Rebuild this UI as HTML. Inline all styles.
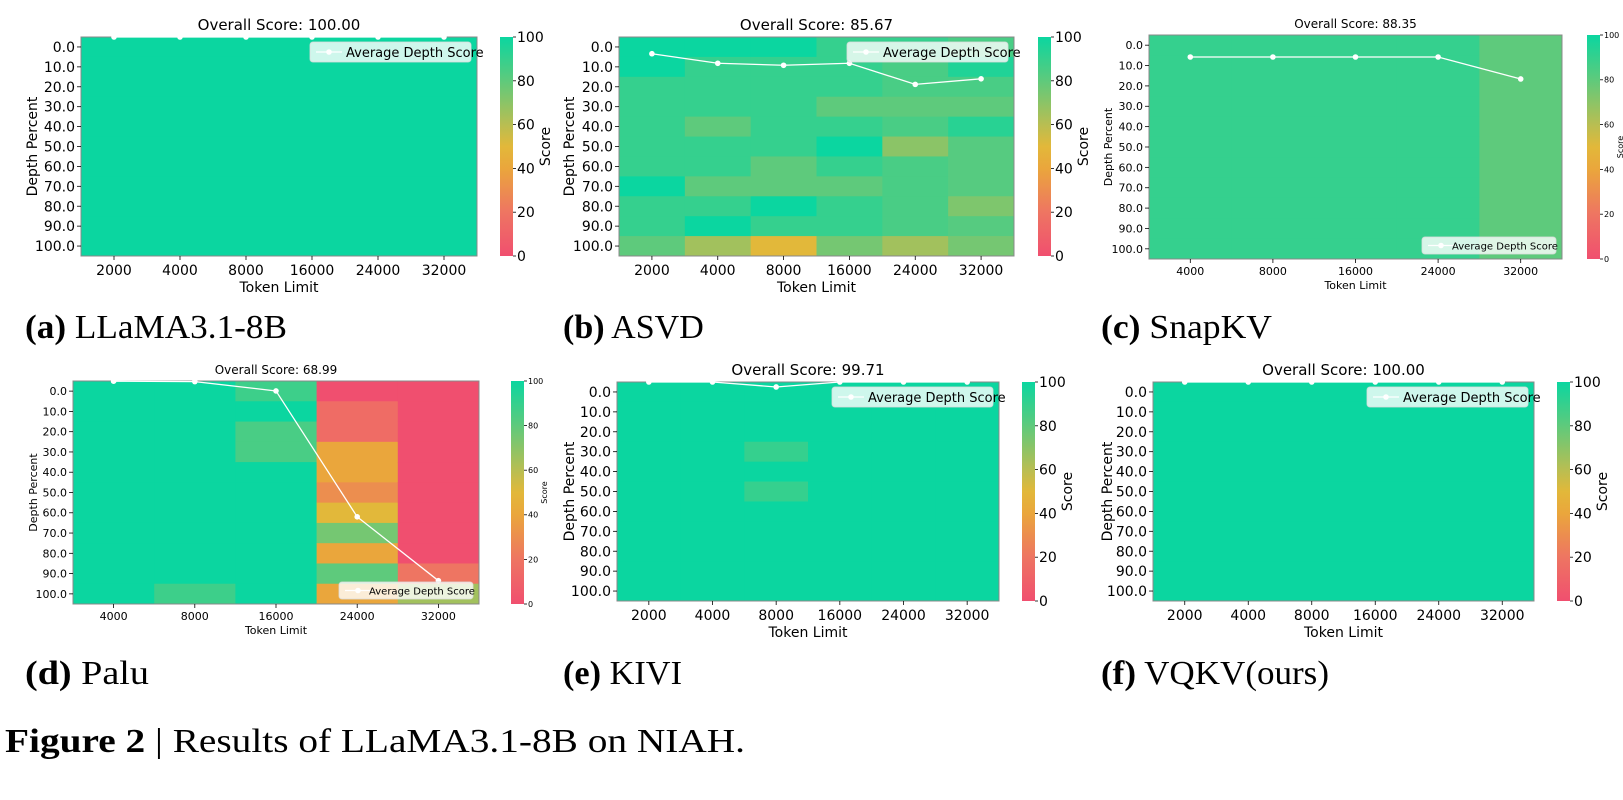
<!DOCTYPE html>
<html><head><meta charset="utf-8"><style>
html,body{margin:0;padding:0;background:#fff;}
svg text{font-family:"DejaVu Sans","Liberation Sans",sans-serif;}
svg text.cap{font-family:"Liberation Serif",serif;}
</style></head><body>
<svg id="fig" width="1623" height="795" viewBox="0 0 1623 795" xmlns="http://www.w3.org/2000/svg">
<defs>
<linearGradient id="cmap" x1="0" y1="1" x2="0" y2="0">
<stop offset="0" stop-color="#F04F6F"/><stop offset="0.2" stop-color="#EE7562"/><stop offset="0.4" stop-color="#EAA63C"/><stop offset="0.5" stop-color="#E2B83A"/><stop offset="0.6" stop-color="#B8BE52"/><stop offset="0.8" stop-color="#5ECA7C"/><stop offset="1" stop-color="#0BD6A0"/>
</linearGradient>
</defs>
<text class="cap" x="25" y="338" font-size="34" textLength="262" lengthAdjust="spacingAndGlyphs"><tspan font-weight="bold">(a)</tspan> LLaMA3.1-8B</text>
<text class="cap" x="563" y="338" font-size="34"><tspan font-weight="bold">(b)</tspan> ASVD</text>
<text class="cap" x="1101" y="338" font-size="34" textLength="171" lengthAdjust="spacingAndGlyphs"><tspan font-weight="bold">(c)</tspan> SnapKV</text>
<text class="cap" x="25" y="684" font-size="34" textLength="124" lengthAdjust="spacingAndGlyphs"><tspan font-weight="bold">(d)</tspan> Palu</text>
<text class="cap" x="563" y="684" font-size="34" textLength="119" lengthAdjust="spacingAndGlyphs"><tspan font-weight="bold">(e)</tspan> KIVI</text>
<text class="cap" x="1101" y="684" font-size="34" textLength="228" lengthAdjust="spacingAndGlyphs"><tspan font-weight="bold">(f)</tspan> VQKV(ours)</text>
<text class="cap" x="5" y="752" font-size="34" textLength="740" lengthAdjust="spacingAndGlyphs"><tspan font-weight="bold">Figure 2</tspan> | Results of LLaMA3.1-8B on NIAH.</text>
</svg>
<script>
const tokens6 = ["2000","4000","8000","16000","24000","32000"];
const tokens5 = ["4000","8000","16000","24000","32000"];
const depthLabels = ["0.0","10.0","20.0","30.0","40.0","50.0","60.0","70.0","80.0","90.0","100.0"];
const cbTicks = [0,20,40,60,80,100];
const titles = ["Overall Score: 100.00","Overall Score: 85.67","Overall Score: 88.35","Overall Score: 68.99","Overall Score: 99.71","Overall Score: 100.00"];
const scoresA = [
[100,100,100,100,100,100,100,100,100,100,100],[100,100,100,100,100,100,100,100,100,100,100],[100,100,100,100,100,100,100,100,100,100,100],
[100,100,100,100,100,100,100,100,100,100,100],[100,100,100,100,100,100,100,100,100,100,100],[100,100,100,100,100,100,100,100,100,100,100]];
const scoresB = [
[100,100,90,90,90,90,90,100,90,90,80],
[100,90,90,90,80,90,90,80,90,100,65],
[100,90,90,90,90,90,80,80,100,90,50],
[90,90,90,80,90,100,90,80,90,90,75],
[90,85,85,80,85,70,85,85,85,85,65],
[85,95,85,80,93,82,82,82,73,82,75]];
const scoresC = [
[90,90,90,90,90,90,90,90,90,90,90],[90,90,90,90,90,90,90,90,90,90,90],[90,90,90,90,90,90,90,90,90,90,90],
[90,90,90,90,90,90,90,90,90,90,90],[80,80,80,80,80,80,80,80,80,80,80]];
const scoresD = [
[100,100,100,100,100,100,100,100,100,100,100],
[100,100,100,100,100,100,100,100,100,100,88],
[88,100,85,85,100,100,100,100,100,100,100],
[0,15,15,40,40,30,50,75,40,80,40],
[0,0,0,0,0,0,0,0,0,20,65]];
const scoresE = [
[100,100,100,100,100,100,100,100,100,100,100],[100,100,100,100,100,100,100,100,100,100,100],[100,100,100,90,100,90,100,100,100,100,100],
[100,100,100,100,100,100,100,100,100,100,100],[100,100,100,100,100,100,100,100,100,100,100],[100,100,100,100,100,100,100,100,100,100,100]];
const scoresF = [
[100,100,100,100,100,100,100,100,100,100,100],[100,100,100,100,100,100,100,100,100,100,100],[100,100,100,100,100,100,100,100,100,100,100],
[100,100,100,100,100,100,100,100,100,100,100],[100,100,100,100,100,100,100,100,100,100,100],[100,100,100,100,100,100,100,100,100,100,100]];
const avgA = [100,100,100,100,100,100];
const avgB = [91.6,86.8,85.8,86.8,76.2,79.0];
const avgC = [89.2,89.2,89.2,89.2,78.4];
const avgD = [99.9,99.7,95.1,33,1.5];
const avgE = [100,100,97.5,100,100,100];
const avgF = [100,100,100,100,100,100];

const NS="http://www.w3.org/2000/svg";
const svg=document.getElementById('fig');
function mk(tag,attrs,parent){const e=document.createElementNS(NS,tag);for(const k in attrs)e.setAttribute(k,attrs[k]);(parent||svg).appendChild(e);return e;}
const stops=[[0,[240,79,111]],[20,[238,117,98]],[40,[234,166,60]],[50,[226,184,58]],[60,[184,190,82]],[80,[94,202,124]],[100,[11,214,160]]];
function cmap(v){for(let i=1;i<stops.length;i++){if(v<=stops[i][0]){const a=stops[i-1],b=stops[i];const t=(v-a[0])/(b[0]-a[0]);const c=a[1].map((x,j)=>Math.round(x+(b[1][j]-x)*t));return `rgb(${c})`;}}return 'rgb(11,214,160)';}

const panels=[
{id:'a',L:81,R:477,T:37,B:256,cb:500,fs:14,tok:tokens6,sc:scoresA,avg:avgA,title:titles[0],leg:'top',ylx:37},
{id:'b',L:619,R:1014,T:37,B:256,cb:1038,fs:14,tok:tokens6,sc:scoresB,avg:avgB,title:titles[1],leg:'top',ylx:574},
{id:'c',L:1149,R:1562,T:35,B:259,cb:1587,fs:11,tok:tokens5,sc:scoresC,avg:avgC,title:titles[2],leg:'bottom',ylx:1112},
{id:'d',L:73,R:479,T:381,B:604,cb:511,fs:11,tok:tokens5,sc:scoresD,avg:avgD,title:titles[3],leg:'bottom',ylx:37},
{id:'e',L:617,R:999,T:382,B:601,cb:1022,fs:14,tok:tokens6,sc:scoresE,avg:avgE,title:titles[4],leg:'top',ylx:574},
{id:'f',L:1153,R:1534,T:382,B:601,cb:1557,fs:14,tok:tokens6,sc:scoresF,avg:avgF,title:titles[5],leg:'top',ylx:1112}];

panels.forEach(p=>{
  const g=mk('g',{});
  
  
  const nC=p.tok.length,nR=depthLabels.length;
  const cw=(p.R-p.L)/nC, rh=(p.B-p.T)/nR;
  const xS=i=>p.L+i*cw, yS=r=>p.T+r*rh;
  const yAvg=v=>p.T+(100-v)/10*rh;
  p.sc.forEach((col,i)=>col.forEach((v,r)=>{
    const c=mk('rect',{x:xS(i),y:yS(r),width:cw+0.5,height:rh+0.5,fill:cmap(v)},g);
    
    
  }));
  mk('rect',{x:p.L,y:p.T,width:p.R-p.L,height:p.B-p.T,fill:'none',stroke:'#888','stroke-width':1},g);
  const t=mk('text',{x:(p.L+p.R)/2,y:p.T-7,'font-size':p.fs+1,'text-anchor':'middle'},g);
  t.textContent=p.title;
  
  
  depthLabels.forEach((lab,r)=>{
    const y=yS(r+0.5);
    mk('line',{x1:p.L-4,x2:p.L,y1:y,y2:y,stroke:'#000','stroke-width':0.8},g);
    const tx=mk('text',{x:p.L-6,y:y+p.fs*0.36,'font-size':p.fs,'text-anchor':'end'},g);
    tx.textContent=lab;
    
    
  });
  p.tok.forEach((lab,i)=>{
    const x=xS(i+0.5);
    mk('line',{x1:x,x2:x,y1:p.B,y2:p.B+4,stroke:'#000','stroke-width':0.8},g);
    const tx=mk('text',{x:x,y:p.B+5+p.fs,'font-size':p.fs,'text-anchor':'middle'},g);
    tx.textContent=lab;
    
    
  });
  const xl=mk('text',{x:(p.L+p.R)/2,y:p.B+8+p.fs*2,'font-size':p.fs,'text-anchor':'middle'},g);
  xl.textContent='Token Limit';
  
  
  const yl=mk('text',{x:p.ylx,y:(p.T+p.B)/2,'font-size':p.fs,'text-anchor':'middle',transform:`rotate(-90 ${p.ylx} ${(p.T+p.B)/2})`},g);
  yl.textContent='Depth Percent';
  
  
  const pts=p.avg.map((v,i)=>[xS(i+0.5),yAvg(v)]);
  const pl=mk('polyline',{points:pts.map(q=>q.join(',')).join(' '),fill:'none',stroke:'#fff','stroke-width':1.3},g);
  
  
  pts.forEach(q=>{const c=mk('circle',{cx:q[0],cy:q[1],r:2.8,fill:'#fff'},g);
    
    });
  const small=p.fs<13;
  const lw=small?134:161, lh=small?17:20;
  const lx=p.R-lw-6, ly=p.leg==='top'?p.T+5:p.B-lh-5;
  const lg=mk('g',{},g);
  
  
  mk('rect',{x:lx,y:ly,width:lw,height:lh,rx:3,fill:'rgba(255,255,255,0.8)',stroke:'rgba(220,220,220,0.8)'},lg);
  mk('line',{x1:lx+6,x2:lx+32,y1:ly+lh/2,y2:ly+lh/2,stroke:'#fff','stroke-width':1.3},lg);
  mk('circle',{cx:lx+19,cy:ly+lh/2,r:2.8,fill:'#fff'},lg);
  const lt=mk('text',{x:lx+(small?30:36),y:ly+lh/2+p.fs*0.36,'font-size':p.fs-1},lg);
  lt.textContent='Average Depth Score';
  const cbw=13;
  const cbr=mk('rect',{x:p.cb,y:p.T,width:cbw,height:p.B-p.T,fill:'url(#cmap)'},g);
  
  
  const cfs=small?8:14;
  cbTicks.forEach(v=>{
    const y=p.B-(v/100)*(p.B-p.T);
    mk('line',{x1:p.cb+cbw,x2:p.cb+cbw+3,y1:y,y2:y,stroke:'#000','stroke-width':0.8},g);
    const tx=mk('text',{x:p.cb+cbw+4,y:y+cfs*0.36,'font-size':cfs},g);
    tx.textContent=String(v);
    
    
  });
  const sx=p.cb+(small?36:50), sy=(p.T+p.B)/2;
  const st=mk('text',{x:sx,y:sy,'font-size':cfs,'text-anchor':'middle',transform:`rotate(-90 ${sx} ${sy})`},g);
  st.textContent='Score';
  
  
});
</script>
</body></html>
